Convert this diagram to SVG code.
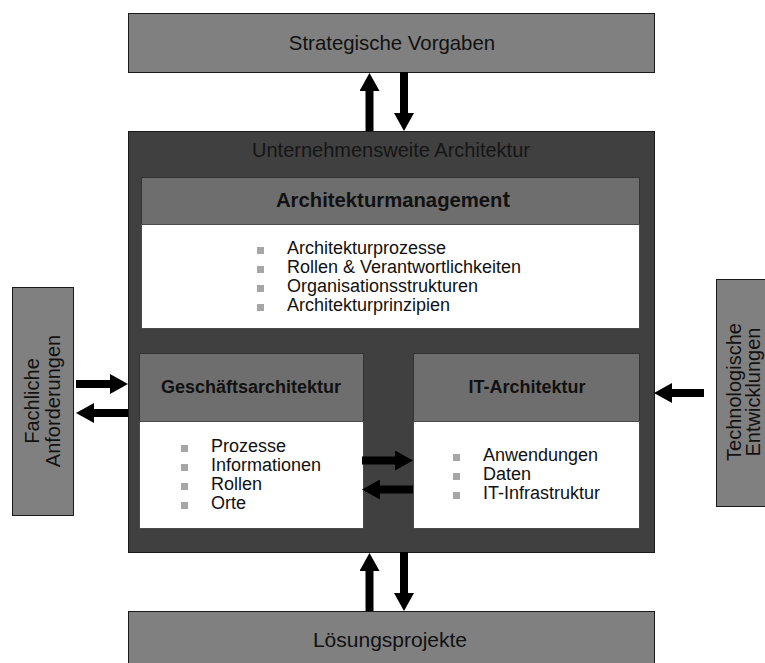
<svg xmlns="http://www.w3.org/2000/svg" width="765" height="663" viewBox="0 0 765 663">
<style>
  text { font-family: "Liberation Sans", Arial, sans-serif; fill: #111; }
  .light { fill: #808080; stroke: #1a1a1a; stroke-width: 1; }
  .dark { fill: #404040; stroke: #1a1a1a; stroke-width: 1; }
  .head { fill: #6e6e6e; stroke: #333; stroke-width: 1; }
  .body { fill: #ffffff; stroke: #4a4a4a; stroke-width: 1; }
  .title { font-size: 20px; text-anchor: middle; }
  .bold { font-weight: bold; text-anchor: middle; font-size: 18px; }
  .item { font-size: 18px; }
  .bullet { fill: #a6a6a6; }
  .conn { stroke: #000; stroke-width: 8; fill: none; marker-end: url(#ah); }
</style>
<defs>
  <marker id="ah" markerUnits="userSpaceOnUse" markerWidth="18" markerHeight="20" refX="1" refY="10" orient="auto">
    <path d="M0,0 L18,10 L0,20 z" fill="#000"/>
  </marker>
</defs>
<rect width="765" height="663" fill="#fff"/>

<g id="strategische-vorgaben">
  <rect class="light" x="128.5" y="13.5" width="526" height="59"/>
  <text class="title" x="392" y="50" style="font-size:20.4px">Strategische Vorgaben</text>
</g>

<g id="loesungsprojekte">
  <rect class="light" x="128.5" y="611.5" width="526" height="60"/>
  <text class="title" x="390" y="647" style="font-size:21px">Lösungsprojekte</text>
</g>

<g id="fachliche-anforderungen">
  <rect class="light" x="12.5" y="287.5" width="61" height="228"/>
  <text class="title" transform="translate(39,401) rotate(-90)">Fachliche</text>
  <text class="title" transform="translate(60,401) rotate(-90)">Anforderungen</text>
</g>

<g id="technologische-entwicklungen">
  <rect class="light" x="716.5" y="279.5" width="60" height="227"/>
  <text class="title" transform="translate(741,392) rotate(-90)">Technologische</text>
  <text class="title" transform="translate(760,392) rotate(-90)">Entwicklungen</text>
</g>

<g id="unternehmensweite-architektur">
  <rect class="dark" x="128.5" y="131.5" width="526" height="421"/>
  <text class="title" x="391" y="157" style="fill:#151515">Unternehmensweite Architektur</text>
</g>

<g id="architekturmanagement">
  <rect class="head" x="141.5" y="177.5" width="498" height="47"/>
  <rect class="body" x="141.5" y="224.5" width="498" height="104"/>
  <text class="bold" x="393" y="207" style="font-size:20.3px">Architekturmanagemen<tspan style="font-size:22.5px">t</tspan></text>
  <rect class="bullet" x="257" y="247" width="7" height="7"/>
  <rect class="bullet" x="257" y="266" width="7" height="7"/>
  <rect class="bullet" x="257" y="285" width="7" height="7"/>
  <rect class="bullet" x="257" y="304" width="7" height="7"/>
  <text class="item" x="287" y="254">Architekturprozesse</text>
  <text class="item" x="287" y="273">Rollen &amp; Verantwortlichkeiten</text>
  <text class="item" x="287" y="292">Organisationsstrukturen</text>
  <text class="item" x="287" y="311">Architekturprinzipien</text>
</g>

<g id="geschaeftsarchitektur">
  <rect class="head" x="139.5" y="353.5" width="224" height="68"/>
  <rect class="body" x="139.5" y="421.5" width="224" height="107"/>
  <text class="bold" x="251" y="393">Geschäftsarchitektur</text>
  <rect class="bullet" x="181" y="445" width="7" height="7"/>
  <rect class="bullet" x="181" y="464" width="7" height="7"/>
  <rect class="bullet" x="181" y="483" width="7" height="7"/>
  <rect class="bullet" x="181" y="502" width="7" height="7"/>
  <text class="item" x="211" y="452">Prozesse</text>
  <text class="item" x="211" y="471">Informationen</text>
  <text class="item" x="211" y="490">Rollen</text>
  <text class="item" x="211" y="509">Orte</text>
</g>

<g id="it-architektur">
  <rect class="head" x="413.5" y="353.5" width="226" height="68"/>
  <rect class="body" x="413.5" y="421.5" width="226" height="107"/>
  <text class="bold" x="527" y="393">IT-Architektur</text>
  <rect class="bullet" x="453" y="454" width="7" height="7"/>
  <rect class="bullet" x="453" y="473" width="7" height="7"/>
  <rect class="bullet" x="453" y="492" width="7" height="7"/>
  <text class="item" x="483" y="461">Anwendungen</text>
  <text class="item" x="483" y="480">Daten</text>
  <text class="item" x="483" y="499">IT-Infrastruktur</text>
</g>

<g id="connectors">
  <line class="conn" x1="369.5" y1="131" x2="369.5" y2="90"/>
  <line class="conn" x1="404" y1="72" x2="404" y2="114"/>
  <line class="conn" x1="369.5" y1="611" x2="369.5" y2="570"/>
  <line class="conn" x1="404" y1="552" x2="404" y2="594"/>
  <line class="conn" x1="76" y1="384" x2="111" y2="384"/>
  <line class="conn" x1="128" y1="413" x2="93" y2="413"/>
  <line class="conn" x1="362" y1="460.5" x2="396" y2="460.5"/>
  <line class="conn" x1="413" y1="489.5" x2="379" y2="489.5"/>
  <line class="conn" x1="704" y1="393" x2="671" y2="393"/>
</g>
</svg>
